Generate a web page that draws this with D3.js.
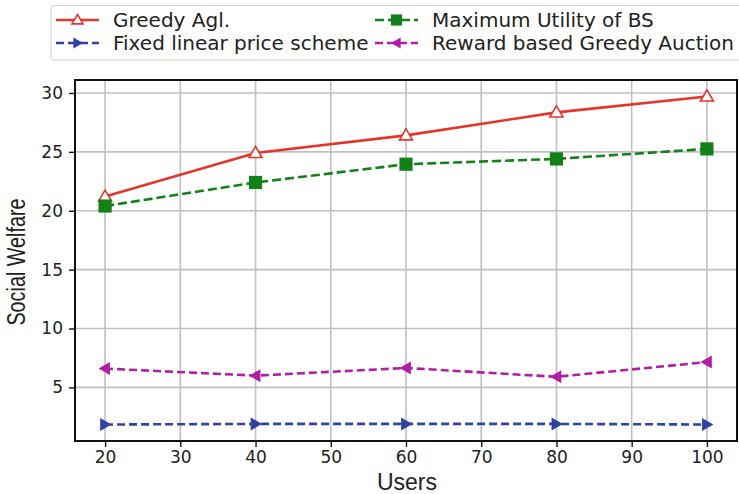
<!DOCTYPE html>
<html><head><meta charset="utf-8">
<script src="https://cdn.jsdelivr.net/npm/d3@7"></script>
<style>body{margin:0;background:#fff}svg{display:block}</style>
</head><body>
<script>
const users = [20, 40, 60, 80, 100];
const greedy = [21.2, 24.9, 26.4, 28.35, 29.7];
const maxUtil = [20.4, 22.4, 23.95, 24.4, 25.25];
const fixedLinear = [1.85, 1.9, 1.9, 1.9, 1.85];
const rewardGreedy = [6.6, 6.0, 6.65, 5.9, 7.15];
const xTicks = [20, 30, 40, 50, 60, 70, 80, 90, 100];
const yTicks = [5, 10, 15, 20, 25, 30];
const seriesNames = ["Greedy Agl.", "Fixed linear price scheme", "Maximum Utility of BS", "Reward based Greedy Auction"];

const W = 739, H = 494;
const L = 75, R = 737, T = 80, B = 441;
const svg = d3.select("body").append("svg").attr("width", W).attr("height", H);
const x = d3.scaleLinear().domain([16, 104]).range([L, R]);
const y = d3.scaleLinear().domain([0.45, 31.1]).range([B, T]);
const font = "DejaVu Sans";

// grid
svg.append("g").selectAll("line").data(xTicks).join("line")
  .attr("x1", d => x(d)).attr("x2", d => x(d)).attr("y1", T).attr("y2", B)
  .attr("stroke", "#c0c0c0").attr("stroke-width", 1.6);
svg.append("g").selectAll("line").data(yTicks).join("line")
  .attr("y1", d => y(d)).attr("y2", d => y(d)).attr("x1", L).attr("x2", R)
  .attr("stroke", "#c0c0c0").attr("stroke-width", 1.6);

// axes
const xa = svg.append("g").attr("transform", `translate(0,${B})`)
  .call(d3.axisBottom(x).tickValues(xTicks).tickSize(6).tickPadding(4));
const ya = svg.append("g").attr("transform", `translate(${L},0)`)
  .call(d3.axisLeft(y).tickValues(yTicks).tickSize(6).tickPadding(6));
[xa, ya].forEach(a => {
  a.select(".domain").remove();
  a.selectAll("line").attr("stroke", "#111").attr("stroke-width", 1.4);
  a.selectAll("text").attr("font-family", font).attr("font-size", 17).attr("fill", "#222");
});

// spines
svg.append("rect").attr("x", L).attr("y", T).attr("width", R - L).attr("height", B - T)
  .attr("fill", "none").attr("stroke", "#111").attr("stroke-width", 2);

const series = [
  {name: seriesNames[0], vals: greedy, color: "#e5352b", dash: null, marker: "up"},
  {name: seriesNames[1], vals: fixedLinear, color: "#3142a4", dash: "8,4", marker: "right"},
  {name: seriesNames[2], vals: maxUtil, color: "#13801a", dash: "9,4", marker: "square"},
  {name: seriesNames[3], vals: rewardGreedy, color: "#b01ea6", dash: "8,4", marker: "left"},
];

function drawMarker(g, type, cx, cy, color, k) {
  const s = 6.5 * k;
  if (type === "up") {
    g.append("path").attr("d", `M${cx},${cy - s}L${cx + s},${cy + s * 0.7}L${cx - s},${cy + s * 0.7}Z`)
      .attr("fill", "#fff").attr("stroke", color).attr("stroke-width", 1.6);
  } else if (type === "square") {
    const h = 6.6 * k;
    g.append("rect").attr("x", cx - h).attr("y", cy - h).attr("width", 2 * h).attr("height", 2 * h).attr("fill", color);
  } else if (type === "right") {
    g.append("path").attr("d", `M${cx + s},${cy}L${cx - s * 0.75},${cy - s}L${cx - s * 0.75},${cy + s}Z`).attr("fill", color);
  } else if (type === "left") {
    g.append("path").attr("d", `M${cx - s},${cy}L${cx + s * 0.75},${cy - s}L${cx + s * 0.75},${cy + s}Z`).attr("fill", color);
  }
}

const line = d3.line().x((d, i) => x(users[i])).y(d => y(d));
series.forEach(s => {
  const g = svg.append("g");
  g.append("path").datum(s.vals).attr("d", line).attr("fill", "none")
    .attr("stroke", s.color).attr("stroke-width", 2.6).attr("stroke-dasharray", s.dash);
  s.vals.forEach((v, i) => drawMarker(g, s.marker, x(users[i]), y(v), s.color, 1));
});

// axis labels
svg.append("text").attr("x", 407).attr("y", 490).attr("text-anchor", "middle")
  .attr("font-family", "Liberation Sans").attr("font-size", 23).attr("fill", "#222").text("Users");
svg.append("text").attr("transform", `translate(25,262) rotate(-90) scale(1,1.3)`).attr("text-anchor", "middle")
  .attr("font-family", "Liberation Sans").attr("font-size", 19.8).attr("fill", "#222").text("Social Welfare");

// legend
const lg = svg.append("g");
lg.append("rect").attr("x", 51).attr("y", 5.5).attr("width", 700).attr("height", 54.5).attr("rx", 3)
  .attr("fill", "#fff").attr("stroke", "#d0d0d0").attr("stroke-width", 1);
const pos = [[56, 20], [56, 43], [375, 20], [375, 43]];
series.forEach((s, i) => {
  const [lx, ly] = pos[i];
  lg.append("line").attr("x1", lx).attr("x2", lx + 43).attr("y1", ly).attr("y2", ly)
    .attr("stroke", s.color).attr("stroke-width", 2.6).attr("stroke-dasharray", s.dash);
  drawMarker(lg, s.marker, lx + 21.5, ly, s.color, 0.85);
  lg.append("text").attr("x", lx + 57).attr("y", ly + 7).attr("font-family", font).attr("font-size", 20)
    .attr("fill", "#222").text(s.name);
});
</script>
</body></html>
